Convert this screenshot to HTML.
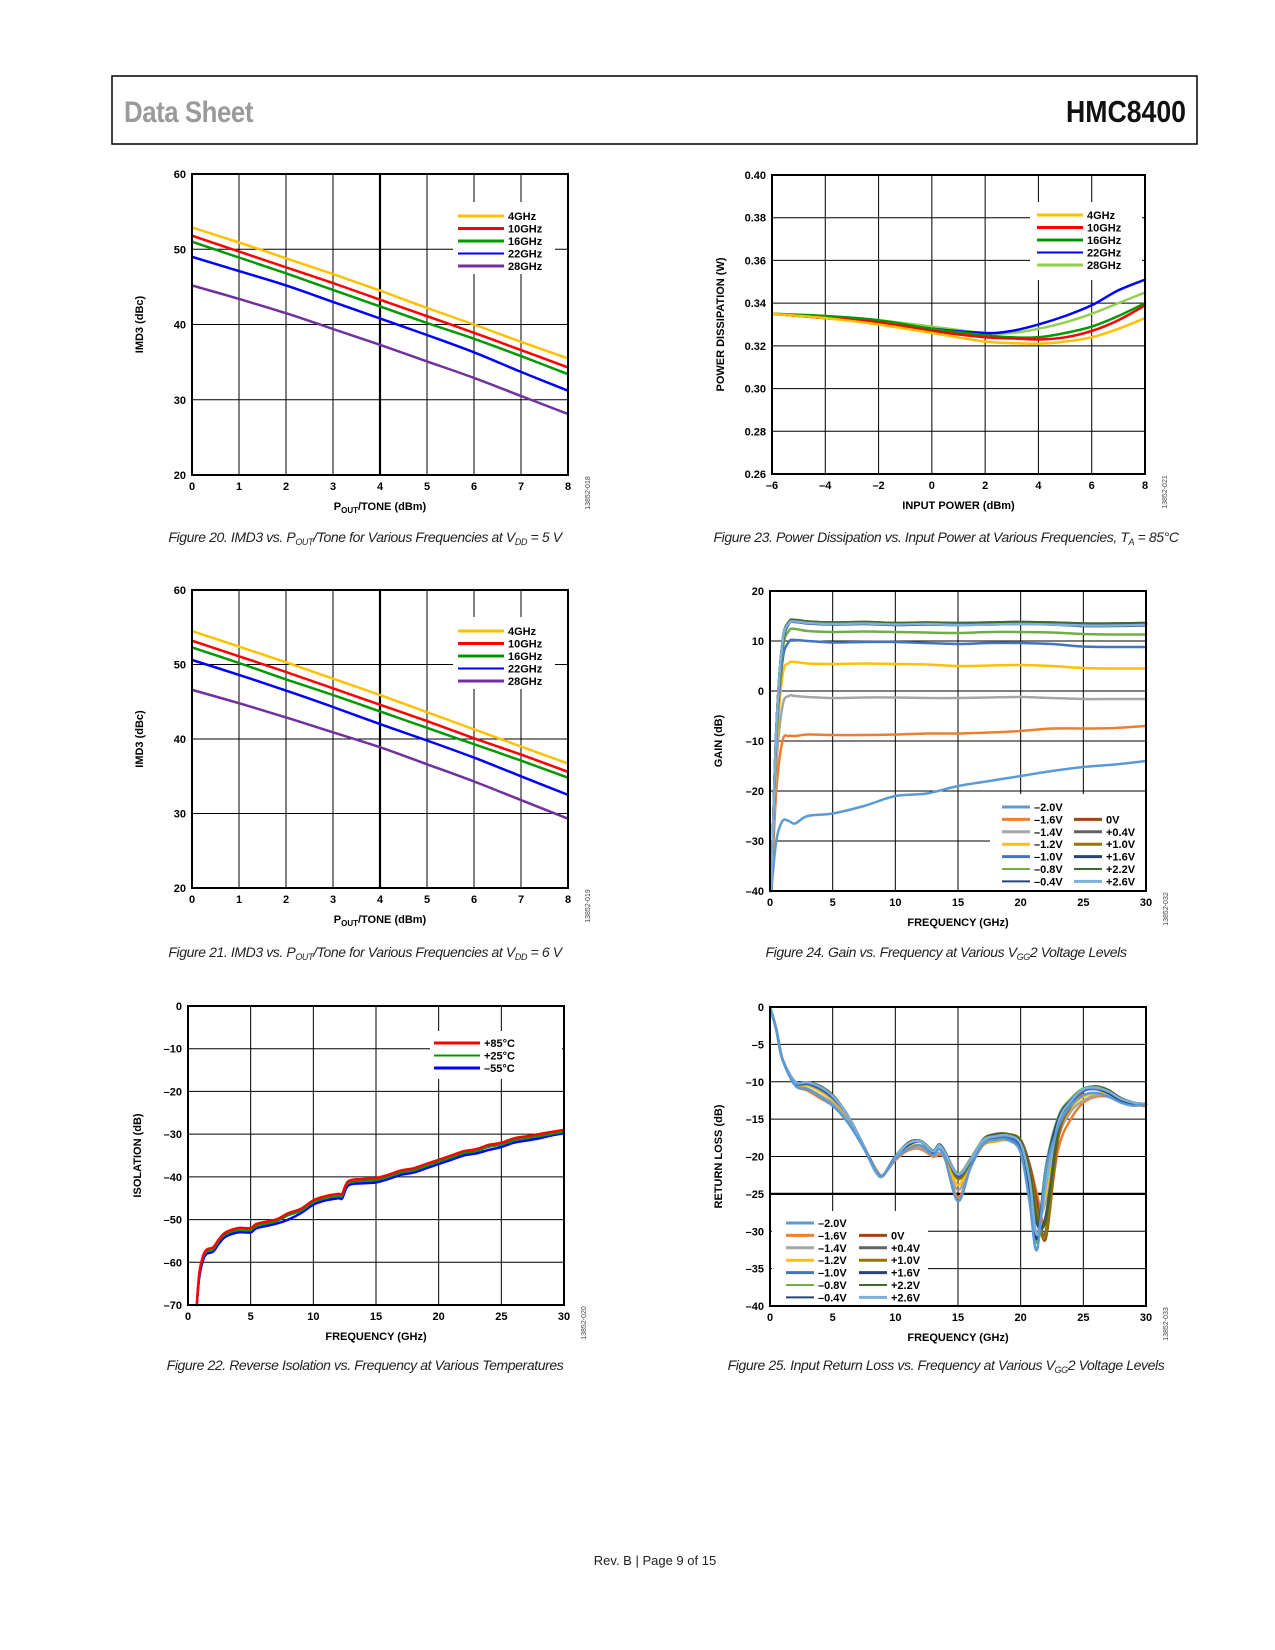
<!DOCTYPE html>
<html><head><meta charset="utf-8"><style>
html,body{margin:0;padding:0;background:#fff;}
svg{display:block;}
text{font-family:"Liberation Sans",sans-serif;}
.t{font-size:11px;font-weight:bold;fill:#000;}
.cap{font-size:14px;font-style:italic;fill:#222;letter-spacing:-0.4px;}
</style></head><body>
<svg id="page" width="1275" height="1650" viewBox="0 0 1275 1650" xmlns="http://www.w3.org/2000/svg">
<rect x="112" y="76" width="1085" height="68" fill="none" stroke="#000" stroke-width="1.5"/>
<text x="124" y="122" style="font-size:30px;fill:#9a9a9a;font-weight:bold;letter-spacing:-0.5px" transform="scale(0.86,1)" transform-origin="124 122">Data Sheet</text>
<text x="1186" y="122" text-anchor="end" style="font-size:31px;fill:#111;font-weight:bold" transform="scale(0.86,1)" transform-origin="1186 122">HMC8400</text>
<text class="cap" x="365" y="542" text-anchor="middle">Figure 20. IMD3 vs. P<tspan font-size="9" dy="3">OUT</tspan><tspan dy="-3">/Tone for Various Frequencies at V</tspan><tspan font-size="9" dy="3">DD</tspan><tspan dy="-3"> = 5 V</tspan></text>
<text class="cap" x="946" y="542" text-anchor="middle">Figure 23. Power Dissipation vs. Input Power at Various Frequencies, T<tspan font-size="9" dy="3">A</tspan><tspan dy="-3"> = 85°C</tspan></text>
<text class="cap" x="365" y="957" text-anchor="middle">Figure 21. IMD3 vs. P<tspan font-size="9" dy="3">OUT</tspan><tspan dy="-3">/Tone for Various Frequencies at V</tspan><tspan font-size="9" dy="3">DD</tspan><tspan dy="-3"> = 6 V</tspan></text>
<text class="cap" x="946" y="957" text-anchor="middle">Figure 24. Gain vs. Frequency at Various V<tspan font-size="9" dy="3">GG</tspan><tspan dy="-3">2 Voltage Levels</tspan></text>
<text class="cap" x="365" y="1370" text-anchor="middle">Figure 22. Reverse Isolation vs. Frequency at Various Temperatures</text>
<text class="cap" x="946" y="1370" text-anchor="middle">Figure 25. Input Return Loss vs. Frequency at Various V<tspan font-size="9" dy="3">GG</tspan><tspan dy="-3">2 Voltage Levels</tspan></text>
<text x="655" y="1565" text-anchor="middle" style="font-size:13px;fill:#222">Rev. B | Page 9 of 15</text>
</svg>
<script>
// ---------- Fig 20 data ----------
const f20x = [0,1,2,3,4,5,6,7,8];
const f20_4 = [52.9,50.9,48.8,46.7,44.5,42.2,40.0,37.7,35.5];
const f20_10 = [51.8,49.7,47.6,45.5,43.3,41.1,38.9,36.6,34.3];
const f20_16 = [51.0,48.9,46.8,44.6,42.4,40.2,38.1,35.8,33.4];
const f20_22 = [49.0,47.1,45.2,43.0,40.8,38.6,36.3,33.7,31.2];
const f20_28 = [45.2,43.4,41.5,39.4,37.3,35.1,32.9,30.5,28.1];
// ---------- Fig 21 data ----------
const f21x = [0,1,2,3,4,5,6,7,8];
const f21_4 = [54.5,52.4,50.3,48.1,45.9,43.6,41.3,39.0,36.7];
const f21_10 = [53.2,51.1,49.0,46.8,44.6,42.4,40.1,37.9,35.6];
const f21_16 = [52.3,50.2,48.0,45.9,43.7,41.5,39.3,37.1,34.8];
const f21_22 = [50.6,48.6,46.5,44.3,42.0,39.8,37.5,35.0,32.5];
const f21_28 = [46.6,44.8,42.9,40.9,38.9,36.6,34.3,31.8,29.3];
const imdYTicks = [20,30,40,50,60];
const imdXTicks = [0,1,2,3,4,5,6,7,8];
// ---------- Fig 22 data ----------
const f22x = [0.7,0.9,1.2,1.5,2,2.5,3,4,5,5.5,7,8,9,10,11,12,12.3,12.8,14,15,16,17,18,19,20,21,22,23,24,25,26,27,28,29,30];
const f22_85 = [-70,-62.5,-58.5,-57,-56.5,-54.5,-53,-52,-52,-51,-50,-48.5,-47.5,-45.5,-44.5,-44,-44,-41,-40.5,-40.3,-39.5,-38.5,-38,-37,-36,-35,-34,-33.5,-32.5,-32,-31,-30.5,-30,-29.5,-29];
const f22_25 = [-70,-63,-59,-57.5,-57,-55,-53.5,-52.5,-52.5,-51.5,-50.5,-49,-48,-46,-45,-44.5,-44.5,-41.5,-41,-40.8,-40,-39,-38.5,-37.5,-36.5,-35.5,-34.5,-34,-33,-32.5,-31.5,-31,-30.5,-30,-29.5];
const f22_m55 = [-70,-63.5,-59.5,-58,-57.5,-55.5,-54,-53,-53,-52,-51,-50,-48.5,-46.5,-45.5,-45,-45,-42,-41.5,-41.3,-40.5,-39.5,-39,-38,-37,-36,-35,-34.5,-33.7,-33,-32,-31.5,-31,-30.3,-29.8];
const isoYTicks = [-70,-60,-50,-40,-30,-20,-10,0];
const freqTicks = [0,5,10,15,20,25,30];
// ---------- Fig 23 data ----------
const f23x = [-6,-4,-2,0,2,3,4,5,6,7,8];
const f23_4 = [0.335,0.333,0.330,0.326,0.322,0.3213,0.321,0.322,0.324,0.328,0.333];
const f23_10 = [0.335,0.333,0.331,0.327,0.324,0.3235,0.323,0.324,0.327,0.332,0.339];
const f23_16 = [0.335,0.334,0.332,0.328,0.325,0.324,0.324,0.326,0.329,0.334,0.340];
const f23_22 = [0.335,0.333,0.331,0.328,0.326,0.327,0.330,0.334,0.339,0.346,0.351];
const f23_28 = [0.335,0.334,0.332,0.329,0.326,0.326,0.328,0.331,0.335,0.340,0.345];
const pdYTicks = [0.26,0.28,0.30,0.32,0.34,0.36,0.38,0.40];
const pdXTicks = [-6,-4,-2,0,2,4,6,8];
// ---------- Fig 24 data ----------
const f24x = [0.1,0.5,1,1.5,2,3,5,7.5,10,12.5,15,17.5,20,22.5,25,27.5,30];
const g_m20 = [-40,-30,-26,-26,-26.5,-25,-24.5,-23,-21,-20.5,-19,-18,-17,-16,-15.2,-14.7,-14];
const g_m16 = [-40,-20,-10,-9,-9,-8.7,-8.8,-8.8,-8.7,-8.5,-8.5,-8.3,-8,-7.5,-7.5,-7.4,-7];
const g_m14 = [-40,-15,-3,-1,-1,-1.2,-1.4,-1.3,-1.3,-1.4,-1.4,-1.3,-1.2,-1.4,-1.6,-1.6,-1.6];
const g_m12 = [-40,-12,3,5.6,5.8,5.5,5.4,5.5,5.4,5.3,5.0,5.1,5.2,5.0,4.6,4.5,4.5];
const g_m10 = [-40,-10,6,9.8,10.2,10,9.7,9.8,9.8,9.6,9.4,9.6,9.6,9.4,8.9,8.8,8.8];
const g_m08 = [-40,-9,8,12,12.4,12,11.8,11.9,11.8,11.7,11.6,11.8,11.8,11.7,11.4,11.3,11.3];
const g_m04 = [-40,-8,9,13.4,13.8,13.5,13.3,13.4,13.2,13.3,13.2,13.3,13.4,13.3,13.0,13.0,13.1];
const g_0 = [-40,-8,9.5,13.6,14.0,13.7,13.5,13.6,13.4,13.5,13.4,13.5,13.6,13.5,13.3,13.3,13.4];
const g_p04 = [-40,-8,9.6,13.7,14.1,13.8,13.6,13.7,13.5,13.6,13.5,13.6,13.7,13.6,13.4,13.4,13.5];
const g_p10 = [-40,-8,9.7,13.7,14.1,13.8,13.6,13.7,13.5,13.6,13.5,13.6,13.7,13.6,13.4,13.4,13.5];
const g_p16 = [-40,-8,9.8,13.8,14.2,13.9,13.7,13.8,13.6,13.7,13.6,13.7,13.8,13.7,13.5,13.5,13.6];
const g_p22 = [-40,-8,9.8,13.8,14.2,13.9,13.7,13.8,13.6,13.7,13.6,13.7,13.8,13.7,13.5,13.5,13.6];
const g_p26 = [-40,-8,9.7,13.5,13.9,13.6,13.4,13.5,13.3,13.4,13.2,13.3,13.4,13.3,13.1,13.1,13.2];
const gainYTicks = [-40,-30,-20,-10,0,10,20];
// ---------- Fig 25 data ----------
const f25x = [0,0.5,1,2,3,4,5,6,7,8,8.5,9,10,11,12,13,13.5,14,15,16,17,18,19,20,20.7,21.3,22,23,24,25,26,27,28,29,30];
const r_m20 = [0,-3,-7,-10.5,-11,-12,-13.2,-15,-17.5,-20.5,-22,-22.6,-20.3,-19,-18.5,-19.8,-19,-20.5,-26,-21.5,-18.3,-17.8,-17.8,-19.5,-26,-32.5,-22,-16,-13.2,-11.8,-11.5,-12,-12.8,-13.2,-13];
const r_m16 = [0,-3,-7,-10.4,-11.2,-12.2,-13.2,-14.8,-17.3,-20.3,-21.8,-22.5,-20.5,-19.2,-19,-20,-19.8,-20.5,-25.5,-21.5,-18.5,-18,-17.8,-18.5,-21,-25,-29,-19,-15,-12.8,-12,-12,-12.5,-13,-13.3];
const r_m14 = [0,-3,-7,-10.3,-10.9,-11.8,-12.8,-14.5,-17.2,-20.4,-22,-22.5,-20.3,-19,-18.8,-19.8,-19.5,-20.3,-24.5,-21,-18.3,-17.8,-17.6,-18.6,-22,-28,-26,-17.5,-14,-12.5,-11.8,-11.8,-12.5,-13,-13];
const r_m12 = [0,-3,-7,-10.2,-10.5,-11.3,-12.4,-14.2,-17,-20.4,-22,-22.6,-20.2,-18.7,-18.5,-19.5,-19,-20,-23.8,-20.8,-18.2,-18,-17.8,-18.6,-22.5,-29,-25,-17,-13.5,-12,-11.5,-11.5,-12.3,-12.8,-13];
const r_m10 = [0,-3,-7,-10.2,-10.3,-11,-12.2,-14,-17,-20.4,-22,-22.6,-20,-18.5,-18,-19.3,-18.5,-19.6,-22.6,-20.5,-18,-17.5,-17.5,-19,-25,-31,-22,-15,-12.6,-11.2,-11,-11.5,-12.4,-13,-13];
const r_m08 = [0,-3,-7,-10.1,-10.2,-10.8,-12,-14,-17,-20.5,-22,-22.6,-20,-18.3,-17.9,-19.2,-18.5,-19.5,-22.3,-20.3,-17.8,-17.3,-17.3,-18.8,-24.5,-31.5,-21.5,-14.7,-12.3,-10.9,-10.7,-11.4,-12.4,-13,-13];
const r_m04 = [0,-3,-7,-10,-10.2,-10.8,-12,-14,-17,-20.5,-22,-22.6,-20,-18.5,-18,-19.5,-18.5,-19.5,-22.5,-20.5,-18,-17.3,-17.2,-18.5,-24,-31,-22,-15,-12.5,-11,-10.8,-11.5,-12.5,-13,-13];
const r_0 = [0,-3,-7,-10,-10.1,-10.6,-11.8,-14,-17,-20.6,-22.2,-22.6,-20.2,-18.4,-18,-19.3,-18.5,-19.6,-23,-20.8,-17.8,-17,-17,-17.8,-21,-26,-31,-17.5,-13.3,-11.3,-10.8,-11.3,-12.3,-12.8,-13];
const r_p04 = [0,-3,-7,-10,-10.1,-10.6,-11.8,-14,-17,-20.6,-22.2,-22.6,-20.1,-18.3,-17.9,-19.2,-18.4,-19.5,-22.8,-20.7,-17.7,-17,-17,-17.8,-21.5,-27,-30,-17,-13,-11.1,-10.7,-11.2,-12.2,-12.8,-13];
const r_p10 = [0,-3,-7,-10,-10.1,-10.6,-11.8,-14,-17,-20.6,-22.2,-22.6,-20.1,-18.2,-17.9,-19.2,-18.4,-19.5,-23,-20.8,-17.8,-17.1,-17,-17.8,-21.5,-27.5,-30.5,-17.3,-13.1,-11.2,-10.8,-11.3,-12.3,-12.8,-13];
const r_p16 = [0,-3,-7,-10,-10.1,-10.6,-11.8,-14,-17,-20.6,-22.2,-22.6,-20.1,-18.2,-17.9,-19.2,-18.4,-19.5,-22.6,-20.6,-17.8,-17.1,-17.1,-18,-22,-29,-28,-16.5,-12.9,-11,-10.7,-11.2,-12.2,-12.8,-13];
const r_p22 = [0,-3,-7,-10,-10.1,-10.6,-11.8,-14,-17,-20.6,-22.2,-22.6,-20.1,-18.2,-17.9,-19.2,-18.4,-19.5,-22.7,-20.6,-17.8,-17.1,-17.1,-18,-22,-28.5,-28.5,-16.5,-12.9,-11,-10.6,-11.1,-12.2,-12.8,-13];
const r_p26 = [0,-3,-7,-10,-10.1,-10.7,-11.9,-14,-17,-20.6,-22.2,-22.6,-20.1,-18.3,-18,-19.3,-18.5,-19.6,-22.4,-20.5,-17.9,-17.3,-17.2,-18.3,-23,-30.5,-24,-15.5,-12.6,-11,-10.8,-11.3,-12.3,-12.8,-13];
const rlYTicks = [-40,-35,-30,-25,-20,-15,-10,-5,0];

const NS = 'http://www.w3.org/2000/svg';
const page = document.getElementById('page');
function mk(tag, attrs, parent){
  const e = document.createElementNS(NS, tag);
  for (const k in attrs) e.setAttribute(k, attrs[k]);
  (parent||page).appendChild(e);
  return e;
}
function lab(v, dec){
  let s = dec ? v.toFixed(dec) : String(v);
  return s.replace('-', '\u2013');
}
function smoothPath(P){
  let d = 'M' + P[0][0].toFixed(1) + ',' + P[0][1].toFixed(1);
  for (let i = 0; i < P.length - 1; i++) {
    const p0 = P[i-1] || P[i], p1 = P[i], p2 = P[i+1], p3 = P[i+2] || p2;
    const c1x = p1[0] + (p2[0]-p0[0])/6, c1y = p1[1] + (p2[1]-p0[1])/6;
    const c2x = p2[0] - (p3[0]-p1[0])/6, c2y = p2[1] - (p3[1]-p1[1])/6;
    d += ' C' + c1x.toFixed(1)+','+c1y.toFixed(1)+' '+c2x.toFixed(1)+','+c2y.toFixed(1)+' '+p2[0].toFixed(1)+','+p2[1].toFixed(1);
  }
  return d;
}
function chart(o){
  const g = mk('g', {});
  
  
  const sx = v => o.x0 + (v - o.xmin) / (o.xmax - o.xmin) * (o.x1 - o.x0);
  const sy = v => o.y1 - (v - o.ymin) / (o.ymax - o.ymin) * (o.y1 - o.y0);
  o.xticks.forEach(t => {
    const l = mk('line', {x1:sx(t), x2:sx(t), y1:o.y0, y2:o.y1, stroke:'#000', 'stroke-width': (t===o.thickX)?2.2:1}, g);
    
    
    const tx = mk('text', {x:sx(t), y:o.y1+15, 'text-anchor':'middle', class:'t'}, g);
    
    
    tx.textContent = lab(t, o.xdec);
  });
  o.yticks.forEach(t => {
    const l = mk('line', {x1:o.x0, x2:o.x1, y1:sy(t), y2:sy(t), stroke:'#000', 'stroke-width': (t===o.thickY)?2.2:1}, g);
    
    
    const tx = mk('text', {x:o.x0-6, y:sy(t)+4, 'text-anchor':'end', class:'t'}, g);
    
    
    tx.textContent = lab(t, o.ydec);
  });
  const L = o.legend;
  const lb = mk('rect', {x:L.bx, y:L.by, width:L.bw, height:L.bh, fill:'#fff'}, g);
  
  
  const cp = 'clip-' + o.name;
  const cl = mk('clipPath', {id:cp}, g);
  mk('rect', {x:o.x0, y:o.y0-2, width:o.x1-o.x0+6, height:o.y1-o.y0+4}, cl);
  o.series.forEach(s => {
    const P = s.xs.map((x,i) => [sx(x), sy(s.ys[i])]);
    const p = mk('path', {d:smoothPath(P), fill:'none', stroke:s.c, 'stroke-width':s.w||2.5, 'stroke-linejoin':'round', 'stroke-linecap':'round', 'clip-path':'url(#'+cp+')'}, g);
    
    
  });
  const fr = mk('rect', {x:o.x0, y:o.y0, width:o.x1-o.x0, height:o.y1-o.y0, fill:'none', stroke:'#000', 'stroke-width':2}, g);
  
  
  L.items.forEach(it => {
    const ll = mk('line', {x1:it.x, x2:it.x+L.len, y1:it.y, y2:it.y, stroke:it.c, 'stroke-width':it.w||3}, g);
    
    
    const lt = mk('text', {x:it.x+L.len+4, y:it.y+4, class:'t'}, g);
    
    
    lt.textContent = it.t;
  });
  const xt = mk('text', {x:(o.x0+o.x1)/2, y:o.y1+35, 'text-anchor':'middle', class:'t'}, g);
  
  
  if (o.xtitleSub) {
    xt.textContent = 'P';
    const ts = mk('tspan', {'font-size':'8', dy:'3'}, xt); ts.textContent = 'OUT';
    const ts2 = mk('tspan', {dy:'-3'}, xt); ts2.textContent = '/TONE (dBm)';
  } else xt.textContent = o.xtitle;
  const yx = o.ytx, yy = (o.y0+o.y1)/2;
  const yt = mk('text', {x:yx, y:yy, 'text-anchor':'middle', class:'t', transform:'rotate(-90 '+yx+' '+yy+')'}, g);
  
  
  yt.textContent = o.ytitle;
  const cx = o.x1 + 22, cy = o.y1 + 18;
  const cd = mk('text', {x:cx, y:cy, 'text-anchor':'middle', transform:'rotate(-90 '+cx+' '+cy+')', style:'font-size:7px;fill:#444'}, g);
  
  
  cd.textContent = o.code;
}
const imdLegend = (y0) => ({bx:453, by:y0-14, bw:102, bh:72, len:46, items:[
  {x:458, y:y0, c:'#ffc000', t:'4GHz'},{x:458, y:y0+12.5, c:'#ff0000', t:'10GHz'},
  {x:458, y:y0+25, c:'#009900', t:'16GHz'},{x:458, y:y0+37.5, c:'#0000ff', t:'22GHz', w:2},
  {x:458, y:y0+50, c:'#7030a0', t:'28GHz'}]});
chart({name:'fig20-imd3-vdd5', x0:192, x1:568, y0:174, y1:475, xmin:0, xmax:8, ymin:20, ymax:60,
  xticks:imdXTicks, yticks:imdYTicks, thickX:4, xtitleSub:true, ytitle:'IMD3 (dBc)', ytx:143, code:'13852-018',
  legend:imdLegend(216),
  series:[{n:'4ghz', xs:f20x, ys:f20_4, c:'#ffc000'},{n:'10ghz', xs:f20x, ys:f20_10, c:'#ff0000'},
    {n:'16ghz', xs:f20x, ys:f20_16, c:'#009900'},{n:'22ghz', xs:f20x, ys:f20_22, c:'#0000ff'},{n:'28ghz', xs:f20x, ys:f20_28, c:'#7030a0'}]});
chart({name:'fig21-imd3-vdd6', x0:192, x1:568, y0:590, y1:888, xmin:0, xmax:8, ymin:20, ymax:60,
  xticks:imdXTicks, yticks:imdYTicks, thickX:4, xtitleSub:true, ytitle:'IMD3 (dBc)', ytx:143, code:'13852-019',
  legend:imdLegend(631),
  series:[{n:'4ghz', xs:f21x, ys:f21_4, c:'#ffc000'},{n:'10ghz', xs:f21x, ys:f21_10, c:'#ff0000'},
    {n:'16ghz', xs:f21x, ys:f21_16, c:'#009900'},{n:'22ghz', xs:f21x, ys:f21_22, c:'#0000ff'},{n:'28ghz', xs:f21x, ys:f21_28, c:'#7030a0'}]});
chart({name:'fig22-reverse-isolation', x0:188, x1:564, y0:1006, y1:1305, xmin:0, xmax:30, ymin:-70, ymax:0,
  xticks:freqTicks, yticks:isoYTicks, xtitle:'FREQUENCY (GHz)', ytitle:'ISOLATION (dB)', ytx:141, code:'13852-020',
  legend:{bx:430, by:1031, bw:132, bh:48, len:46, items:[{x:434, y:1043, c:'#ff0000', t:'+85°C'},{x:434, y:1055.5, c:'#009900', t:'+25°C', w:2},{x:434, y:1068, c:'#0000ff', t:'\u201355°C'}]},
  series:[{n:'minus55c', xs:f22x, ys:f22_m55, c:'#0000ff'},{n:'plus25c', xs:f22x, ys:f22_25, c:'#009900', w:2},{n:'plus85c', xs:f22x, ys:f22_85, c:'#ff0000'}]});
chart({name:'fig23-power-dissipation', x0:772, x1:1145, y0:175, y1:474, xmin:-6, xmax:8, ymin:0.26, ymax:0.40,
  xticks:pdXTicks, yticks:pdYTicks, ydec:2, xtitle:'INPUT POWER (dBm)', ytitle:'POWER DISSIPATION (W)', ytx:724, code:'13852-021',
  legend:{bx:1030, by:202, bw:112, bh:78, len:46, items:[{x:1037, y:215, c:'#ffc000', t:'4GHz'},{x:1037, y:227.5, c:'#ff0000', t:'10GHz'},{x:1037, y:240, c:'#009900', t:'16GHz'},{x:1037, y:252.5, c:'#0000ff', t:'22GHz', w:2},{x:1037, y:265, c:'#92d050', t:'28GHz'}]},
  series:[{n:'28ghz', xs:f23x, ys:f23_28, c:'#92d050'},{n:'22ghz', xs:f23x, ys:f23_22, c:'#0000ff'},{n:'16ghz', xs:f23x, ys:f23_16, c:'#009900'},{n:'10ghz', xs:f23x, ys:f23_10, c:'#ff0000'},{n:'4ghz', xs:f23x, ys:f23_4, c:'#ffc000'}]});
const vC = {m20:'#5b9bd5', m16:'#ed7d31', m14:'#a5a5a5', m12:'#ffc000', m10:'#4472c4', m08:'#70ad47', m04:'#264478', z:'#9e480e', p04:'#636363', p10:'#997300', p16:'#264478', p22:'#43682b', p26:'#7cafdd'};
const vLegend = (x1, x2, y0, step, bx, by, bw, bh) => ({bx:bx, by:by, bw:bw, bh:bh, len:28, items:[
  {x:x1, y:y0, c:vC.m20, t:'\u20132.0V'},
  {x:x1, y:y0+step, c:vC.m16, t:'\u20131.6V'},{x:x2, y:y0+step, c:vC.z, t:'0V'},
  {x:x1, y:y0+2*step, c:vC.m14, t:'\u20131.4V'},{x:x2, y:y0+2*step, c:vC.p04, t:'+0.4V'},
  {x:x1, y:y0+3*step, c:vC.m12, t:'\u20131.2V'},{x:x2, y:y0+3*step, c:vC.p10, t:'+1.0V'},
  {x:x1, y:y0+4*step, c:vC.m10, t:'\u20131.0V'},{x:x2, y:y0+4*step, c:vC.p16, t:'+1.6V'},
  {x:x1, y:y0+5*step, c:vC.m08, t:'\u20130.8V', w:2},{x:x2, y:y0+5*step, c:vC.p22, t:'+2.2V', w:2},
  {x:x1, y:y0+6*step, c:vC.m04, t:'\u20130.4V', w:2},{x:x2, y:y0+6*step, c:vC.p26, t:'+2.6V'}]});
chart({name:'fig24-gain', x0:770, x1:1146, y0:591, y1:891, xmin:0, xmax:30, ymin:-40, ymax:20,
  xticks:freqTicks, yticks:gainYTicks, xtitle:'FREQUENCY (GHz)', ytitle:'GAIN (dB)', ytx:722, code:'13852-032',
  legend:vLegend(1002, 1074, 807, 12.4, 990, 794, 155, 96),
  series:[{n:'m2.0v', xs:f24x, ys:g_m20, c:vC.m20},{n:'m1.6v', xs:f24x, ys:g_m16, c:vC.m16},{n:'m1.4v', xs:f24x, ys:g_m14, c:vC.m14},
    {n:'m1.2v', xs:f24x, ys:g_m12, c:vC.m12},{n:'m1.0v', xs:f24x, ys:g_m10, c:vC.m10},{n:'m0.8v', xs:f24x, ys:g_m08, c:vC.m08},
    {n:'m0.4v', xs:f24x, ys:g_m04, c:vC.m04},{n:'0v', xs:f24x, ys:g_0, c:vC.z},{n:'p0.4v', xs:f24x, ys:g_p04, c:vC.p04},
    {n:'p1.0v', xs:f24x, ys:g_p10, c:vC.p10},{n:'p1.6v', xs:f24x, ys:g_p16, c:vC.p16},{n:'p2.2v', xs:f24x, ys:g_p22, c:vC.p22},
    {n:'p2.6v', xs:f24x, ys:g_p26, c:vC.p26}]});
chart({name:'fig25-return-loss', x0:770, x1:1146, y0:1007, y1:1306, xmin:0, xmax:30, ymin:-40, ymax:0,
  xticks:freqTicks, yticks:rlYTicks, thickY:-25, xtitle:'FREQUENCY (GHz)', ytitle:'RETURN LOSS (dB)', ytx:722, code:'13852-033',
  legend:vLegend(786, 859, 1223, 12.4, 772, 1211, 156, 94),
  series:[{n:'m1.6v', xs:f25x, ys:r_m16, c:vC.m16},{n:'m1.4v', xs:f25x, ys:r_m14, c:vC.m14},{n:'m1.2v', xs:f25x, ys:r_m12, c:vC.m12},
    {n:'0v', xs:f25x, ys:r_0, c:vC.z},{n:'p0.4v', xs:f25x, ys:r_p04, c:vC.p04},{n:'p1.0v', xs:f25x, ys:r_p10, c:vC.p10},
    {n:'p1.6v', xs:f25x, ys:r_p16, c:vC.p16},{n:'p2.2v', xs:f25x, ys:r_p22, c:vC.p22},{n:'m0.8v', xs:f25x, ys:r_m08, c:vC.m08},
    {n:'m1.0v', xs:f25x, ys:r_m10, c:vC.m10},{n:'m0.4v', xs:f25x, ys:r_m04, c:vC.m04},{n:'p2.6v', xs:f25x, ys:r_p26, c:vC.p26},
    {n:'m2.0v', xs:f25x, ys:r_m20, c:vC.m20}]});
</script>
</body></html>
